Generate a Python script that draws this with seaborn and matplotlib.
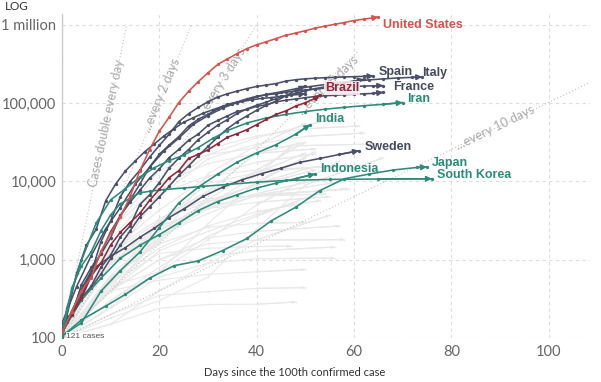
import numpy as np
import pandas as pd
import seaborn as sns
import matplotlib.pyplot as plt

# ---------------- data ----------------
us_days = list(range(0, 65, 2)) + [65]
us_cases = [118, 217, 402, 589, 1281, 2179, 3499, 6421, 13677, 25489, 43847, 65778,
            101657, 140886, 188172, 243762, 311357, 366614, 429052, 496535, 555313,
            607670, 667801, 735086, 784326, 840351, 905358, 960896, 1012583, 1069424,
            1133069, 1180375, 1228603, 1256972]

brazil_days = list(range(0, 53, 2)) + [53]
brazil_cases = [121, 200, 321, 621, 904, 1546, 2247, 2985, 3904, 5717, 7910, 11130, 13717,
                19638, 22192, 25262, 30425, 36599, 40743, 45757, 52995, 61888, 71886,
                79361, 91589, 101147, 114715, 126611]

spain_days = list(range(0, 65, 2))
spain_cases = [120, 222, 400, 673, 1695, 3146, 6391, 9942, 13910, 20410, 28768, 39885,
               57786, 73235, 87956, 104118, 119199, 131646, 141942, 153222, 163027,
               170099, 177644, 190839, 198674, 204178, 208000, 211000, 213500, 215500,
               217500, 219500, 221000]

italy_days = list(range(0, 73, 3)) + [74]
italy_cases = [155, 453, 1128, 2502, 4636, 9172, 15113, 24747, 35713, 53578, 69176, 86498,
               101739, 115242, 128948, 139422, 152271, 162488, 172434, 181228, 189973,
               197675, 203591, 209328, 213013, 215858]

france_days = list(range(0, 67, 2))
france_cases = [130, 212, 423, 716, 1209, 2284, 3661, 5423, 7699, 10995, 14459, 20123,
                25600, 33402, 40174, 52128, 59929, 68605, 78167, 83057, 90848, 95403,
                103573, 108847, 112606, 117324, 121268, 124114, 125770, 128442, 129581,
                131287, 132967, 137150]

germany_days = list(range(0, 67, 2))
germany_cases = [130, 196, 482, 795, 1176, 1908, 3675, 5795, 9257, 15320, 22213, 29056,
                 37323, 50871, 62095, 71808, 84794, 96092, 103374, 113296, 122171, 127854,
                 131359, 137698, 143342, 147065, 150648, 154999, 157770, 159912, 163009,
                 164967, 166152, 167007]

uk_days = list(range(0, 63, 2))
uk_cases = [116, 206, 321, 459, 801, 1143, 1960, 2716, 5067, 6726, 9640, 14745, 19780,
            25481, 34173, 42477, 52279, 61474, 73758, 84279, 93873, 103093, 114217,
            124743, 133495, 143464, 152840, 161145, 171253, 182260, 190584, 201101]

russia_days = list(range(0, 51, 2))
russia_cases = [114, 199, 306, 438, 658, 1036, 1534, 2337, 3548, 4731, 6343, 8672, 11917,
                15770, 21102, 27938, 36793, 47121, 57999, 68622, 80949, 93558, 106498,
                124054, 145268, 165929]

turkey_days = [0, 1] + list(range(3, 50, 2)) + [50]
turkey_cases = [98, 191, 670, 1529, 2433, 5698, 9217, 13531, 18135, 23934, 30217, 38226,
                47029, 56956, 65111, 74193, 82329, 90980, 98674, 104912, 110130, 114653,
                117589, 122392, 126045, 129491, 131744]

sweden_days = [0, 1, 4, 7, 10, 13, 16, 19, 22, 25, 29, 33, 37, 41, 45, 49, 53, 57, 61]
sweden_cases = [137, 161, 355, 814, 1103, 1423, 1934, 2526, 3447, 4435, 6443, 8419, 10483,
                12540, 14777, 17567, 19621, 22082, 24623]

iran_days = [0, 1, 4, 7, 10, 13, 16, 19, 22, 25, 28, 31, 34, 38, 42, 46, 50, 54, 58, 62, 66, 70]
iran_cases = [110, 245, 978, 2922, 5823, 8042, 11364, 14991, 18407, 21638, 27017, 35408,
              44605, 55743, 64586, 71686, 77995, 83505, 88194, 92584, 96448, 101650]

india_days = [0, 4, 8, 12, 16, 20, 24, 28, 32, 36, 40, 44, 48, 51]
india_cases = [107, 156, 396, 727, 1251, 2567, 5311, 8446, 12380, 17615, 23077, 29451,
               39980, 52987]

indonesia_days = [0, 4, 8, 12, 16, 20, 24, 28, 32, 36, 40, 44, 48, 52]
indonesia_cases = [117, 309, 579, 1046, 1528, 2092, 2956, 4241, 5516, 6760, 8211, 9511,
                   10843, 12438]

japan_days = [0, 4, 9, 13, 18, 23, 28, 33, 38, 43, 48, 53, 58, 63, 68, 73, 75]
japan_cases = [105, 170, 256, 360, 581, 839, 963, 1307, 1866, 3139, 4667, 7645, 10797,
               12368, 13965, 15078, 15253]

korea_days = [0, 2, 4, 6, 8, 10, 12, 14, 16, 18, 21, 25, 29, 34, 40, 46, 55, 65, 76]
korea_cases = [104, 433, 833, 1261, 2337, 3736, 5186, 6088, 7134, 7478, 7869, 8236, 8652,
               9137, 9786, 10284, 10591, 10718, 10806]

# background countries (light grey)
gray_days = [
    [0, 10, 20, 30, 40, 50, 56], [0, 10, 20, 30, 40, 50, 61], [0, 10, 20, 30, 40, 50, 62],
    [0, 10, 20, 30, 40, 50, 65], [0, 10, 20, 30, 40, 50], [0, 10, 20, 30, 40, 52],
    [0, 10, 20, 30, 40, 52], [0, 10, 20, 30, 40, 50], [0, 10, 20, 30, 40, 47],
    [0, 10, 20, 30, 40, 50], [0, 10, 20, 30, 40, 52], [0, 10, 20, 30, 40, 49],
    [0, 10, 20, 30, 40, 57], [0, 10, 20, 30, 40, 59], [0, 10, 20, 30, 40, 51],
    [0, 10, 20, 30, 40, 52], [0, 10, 20, 30, 40, 58], [0, 10, 20, 30, 40, 59],
    [0, 10, 20, 30, 40, 58], [0, 10, 20, 30, 40, 54], [0, 10, 20, 30, 40, 52],
    [0, 10, 20, 30, 40, 55], [0, 10, 20, 30, 40, 53], [0, 10, 20, 30, 40, 55],
    [0, 10, 20, 30, 40, 48], [0, 10, 20, 30, 40, 50], [0, 10, 20, 30, 40, 57],
    [0, 10, 20, 30, 40, 58], [0, 10, 20, 30, 40, 56], [0, 10, 20, 30, 40, 50],
    [0, 10, 20, 30, 40, 48], [0, 10, 20, 30, 40, 47], [0, 10, 20, 30, 40, 56],
    [0, 10, 20, 30, 40, 50, 66], [0, 10, 20, 30, 40, 57], [0, 10, 20, 30, 40, 50],
    [0, 10, 20, 30, 40, 50], [0, 10, 20, 30, 40, 55],
]
gray_cases = [
    [100, 900, 7400, 22000, 36000, 52000, 63000], [100, 1800, 9100, 26000, 38000, 47000, 51000],
    [100, 1400, 6400, 19500, 30000, 37500, 41500], [100, 2200, 14000, 22000, 26700, 28700, 30100],
    [100, 580, 1750, 12500, 28700, 54800], [100, 2400, 9000, 16900, 22800, 26000],
    [100, 1300, 4300, 11500, 17600, 22400], [100, 900, 3000, 7500, 12800, 23000],
    [100, 600, 1900, 5000, 12000, 27600], [100, 560, 1700, 5900, 13900, 31900],
    [100, 900, 2400, 5000, 9500, 24000], [100, 1300, 3300, 7500, 22700, 31000],
    [100, 430, 3000, 9400, 12900, 16300], [100, 900, 7000, 11800, 14000, 15700],
    [100, 630, 2300, 5600, 9300, 15000], [100, 400, 2100, 5500, 9000, 14000],
    [100, 900, 2000, 3900, 6700, 10100], [100, 1200, 3100, 5600, 6700, 8000],
    [100, 400, 1900, 4500, 6500, 8000], [100, 500, 3300, 6000, 6500, 6900],
    [100, 500, 2600, 4600, 7000, 10300], [100, 900, 2700, 4500, 5400, 6400],
    [100, 520, 1400, 2700, 4100, 5700], [100, 300, 800, 2000, 3600, 8000],
    [100, 400, 1300, 2300, 3800, 5400], [100, 600, 1600, 2600, 2900, 3000],
    [100, 400, 1000, 1900, 2300, 2700], [100, 400, 1000, 1600, 1780, 1800],
    [100, 300, 700, 1100, 1300, 1450], [100, 200, 350, 390, 430, 440],
    [100, 150, 240, 268, 270, 288], [100, 500, 1200, 1400, 1470, 1490],
    [100, 150, 400, 900, 1030, 1045], [100, 180, 300, 600, 2500, 9000, 20000],
    [100, 460, 700, 1800, 5000, 18000], [100, 250, 700, 2900, 10000, 20000],
    [100, 400, 550, 650, 700, 750], [100, 240, 600, 900, 1800, 3700],
]

# doubling-time guide lines: start (0, 100) -> end point
guide_names = ["Cases double every day", "...every 2 days", "...every 3 days",
               "...every 5 days", "...every 10 days"]
guide_end_day = [13.3, 26.6, 40, 61, 109]
guide_end_cases = [1.0e6, 1.0e6, 1.0e6, 4.7e5, 1.9e5]

# ---------------- styling ----------------
RED = "#d4554f"
MAROON = "#8b2b3b"
SLATE = "#4b5069"
TEAL = "#2e8a7b"
GREY = "#e8e8e8"

countries = {
    "Germany": (germany_days, germany_cases, SLATE),
    "United Kingdom": (uk_days, uk_cases, SLATE),
    "Russia": (russia_days, russia_cases, SLATE),
    "Turkey": (turkey_days, turkey_cases, SLATE),
    "Sweden": (sweden_days, sweden_cases, SLATE),
    "France": (france_days, france_cases, SLATE),
    "Italy": (italy_days, italy_cases, SLATE),
    "Spain": (spain_days, spain_cases, SLATE),
    "Japan": (japan_days, japan_cases, TEAL),
    "South Korea": (korea_days, korea_cases, TEAL),
    "Indonesia": (indonesia_days, indonesia_cases, TEAL),
    "India": (india_days, india_cases, TEAL),
    "Iran": (iran_days, iran_cases, TEAL),
    "Brazil": (brazil_days, brazil_cases, MAROON),
    "United States": (us_days, us_cases, RED),
}

# label positions (day, cases) and colour
labels = [
    ("United States", 66, 1.0e6, RED),
    ("Spain", 65.1, 2.5e5, "#454a5c"),
    ("Italy", 73.9, 2.4e5, "#454a5c"),
    ("France", 68, 1.62e5, "#454a5c"),
    ("Iran", 71, 1.13e5, TEAL),
    ("India", 52, 6.3e4, TEAL),
    ("Sweden", 62.2, 2.76e4, "#454a5c"),
    ("Indonesia", 53, 1.45e4, TEAL),
    ("Japan", 76, 1.72e4, TEAL),
    ("South Korea", 77, 1.2e4, TEAL),
]

sns.set_theme(style="white")
plt.rcParams["font.family"] = ["Lato", "DejaVu Sans"]

fig = plt.figure(figsize=(6.01, 3.82), dpi=100)
ax = fig.add_axes([0.1032, 0.1152, 0.8785, 0.8482])
ax.set_yscale("log")

# background grey lines
gray_df = pd.concat([pd.DataFrame({"line": i, "day": d, "cases": c})
                     for i, (d, c) in enumerate(zip(gray_days, gray_cases))])
sns.lineplot(data=gray_df, x="day", y="cases", units="line", estimator=None, sort=False,
             color=GREY, lw=0.8, marker="o", markersize=1.2, markeredgewidth=0,
             ax=ax, zorder=1)
for d, c in zip(gray_days, gray_cases):
    ax.annotate("", xy=(d[-1], c[-1]), xytext=(d[-2], c[-2]),
                arrowprops=dict(arrowstyle="-|>", color=GREY, lw=0.8,
                                mutation_scale=4, shrinkA=0, shrinkB=0), zorder=1)

# doubling guide lines
guide_df = pd.concat([pd.DataFrame({"guide": n, "day": [0, d], "cases": [100, c]})
                      for n, d, c in zip(guide_names, guide_end_day, guide_end_cases)])
sns.lineplot(data=guide_df, x="day", y="cases", units="guide", estimator=None, sort=False,
             color="#c4c4c4", lw=0.8, linestyle=(0, (1, 2)), ax=ax, zorder=2)
guide_text_pos = [(9.2, 5.6e4, 78), (20.5, 1.26e5, 67.5), (32.9, 1.86e5, 58),
                  (54.6, 1.7e5, 44), (88.9, 4.8e4, 26)]
for name, (gx, gy, rot) in zip(guide_names, guide_text_pos):
    ax.text(gx, gy, name, rotation=rot, ha="center", va="center", fontsize=9,
            color="#a9a9a9", zorder=2, rotation_mode="anchor")

# highlighted countries
hi_df = pd.concat([pd.DataFrame({"country": k, "day": v[0], "cases": v[1]})
                   for k, v in countries.items()])
palette = {k: v[2] for k, v in countries.items()}
sns.lineplot(data=hi_df, x="day", y="cases", hue="country", hue_order=list(countries),
             palette=palette, estimator=None, sort=False, lw=1.15, marker="o",
             markersize=2.4, markeredgewidth=0, legend=False, ax=ax, zorder=3)
for k, (d, c, col) in countries.items():
    ax.annotate("", xy=(d[-1], c[-1]), xytext=(d[-2], c[-2]),
                arrowprops=dict(arrowstyle="-|>", color=col, lw=1.15,
                                mutation_scale=8, shrinkA=0, shrinkB=0), zorder=3)

for text, lx, ly, col in labels:
    ax.text(lx, ly, text, ha="left", va="center", fontsize=9, fontweight="bold",
            color=col, family=["Liberation Sans", "DejaVu Sans"], zorder=5)
ax.text(54, 1.56e5, "Brazil", ha="left", va="center", fontsize=9, fontweight="bold",
        color=MAROON, family=["Liberation Sans", "DejaVu Sans"], zorder=5,
        bbox=dict(boxstyle="square,pad=0.1", fc="#f6e9ec", ec="none", alpha=0.9))
ax.text(0.9, 104, "121 cases", ha="left", va="center", fontsize=6, color="#555555",
        family=["Liberation Sans", "DejaVu Sans"], zorder=5,
        bbox=dict(boxstyle="square,pad=0.1", fc="white", ec="none", alpha=0.8))

# axes
ax.set_xlim(0, 108.5)
ax.set_ylim(100, 1.374e6)
ax.set_xticks([0, 20, 40, 60, 80, 100])
ax.set_yticks([100, 1000, 10000, 100000, 1000000])
ax.set_yticklabels(["100", "1,000", "10,000", "100,000", "1 million"])
ax.minorticks_off()
ax.tick_params(axis="both", length=0, labelsize=10.5, colors="#666666")
ax.tick_params(axis="y", pad=4)
ax.tick_params(axis="x", pad=5)
ax.set_xlabel("")
ax.set_ylabel("")
ax.grid(True, which="major", color="#dcdcdc", linestyle=(0, (3, 3)), lw=0.8)
ax.set_axisbelow(True)
for s in ["top", "right", "bottom"]:
    ax.spines[s].set_visible(False)
ax.spines["left"].set_color("#cccccc")
ax.spines["left"].set_linewidth(1)

fig.text(0.008, 0.982, "LOG", fontsize=8.5, color="#333333", va="center")
fig.text(0.491, 0.026, "Days since the 100th confirmed case", fontsize=8,
         color="#333333", ha="center", va="center")

fig.savefig("out.png", dpi=100)
